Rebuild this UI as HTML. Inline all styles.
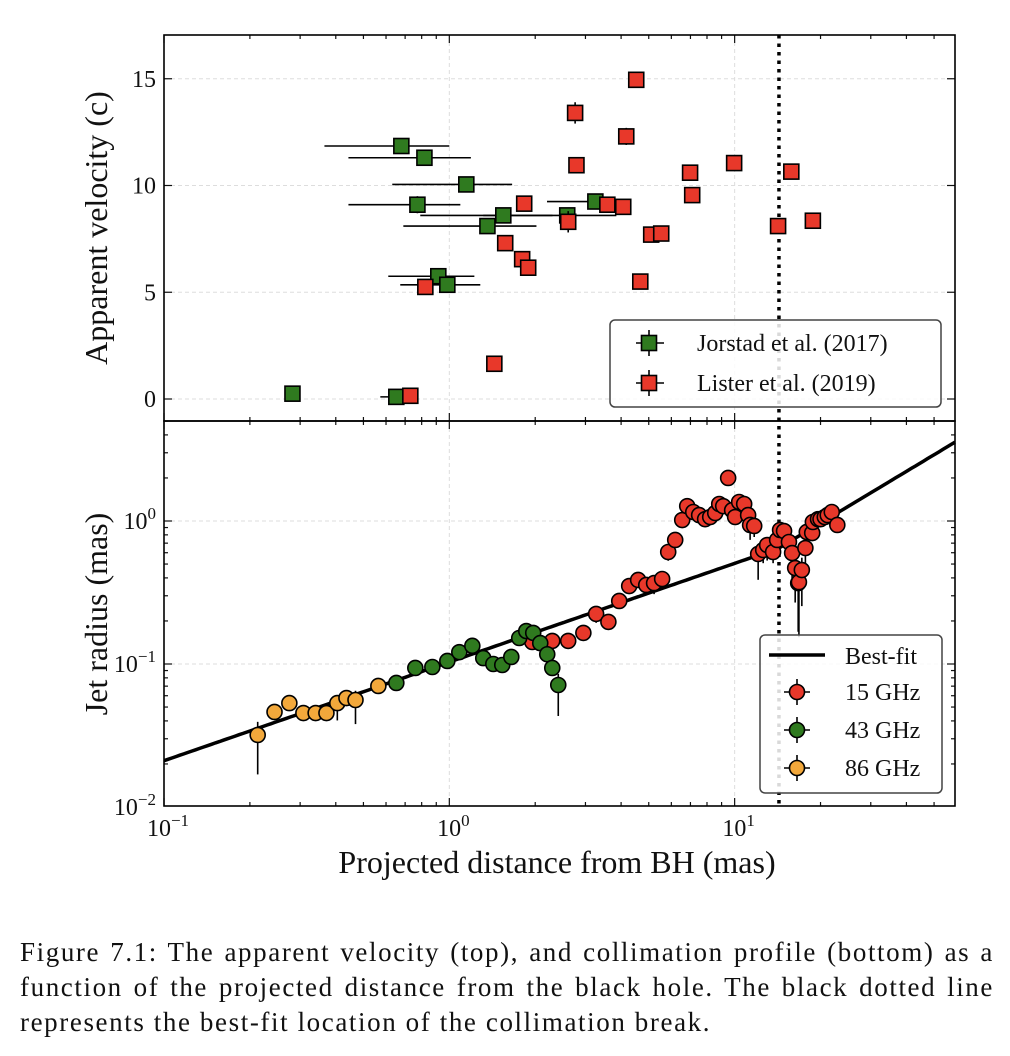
<!DOCTYPE html>
<html><head><meta charset="utf-8">
<style>
body{margin:0;background:#fff;width:1010px;height:1056px;overflow:hidden;font-family:"Liberation Serif",serif;}
svg{position:absolute;left:0;top:0;}
svg text{font-family:"Liberation Serif",serif;fill:#111;}
#caption{position:absolute;left:20px;top:935px;width:974px;font-size:27px;letter-spacing:1.6px;line-height:35px;color:#111;}
#caption div{text-align:justify;text-align-last:justify;}
#caption div.last{text-align-last:left;white-space:nowrap;}
</style></head>
<body>
<svg id="chart" width="1010" height="920"></svg>
<div id="caption"><div>Figure 7.1: The apparent velocity (top), and collimation profile (bottom) as a</div><div>function of the projected distance from the black hole. The black dotted line</div><div class="last">represents the best-fit location of the collimation break.</div></div>
<script>
// ---- Top panel data: apparent velocity ----
const jorX   = [0.679,0.818,1.147,0.773,1.546,1.36,0.915,0.984,0.282,0.652,2.59,3.25];
const jorV   = [11.85,11.3,10.05,9.1,8.6,8.1,5.75,5.35,0.25,0.1,8.6,9.25];
const jorXlo = [0.365,0.443,0.631,0.443,0.791,0.690,0.611,0.673,0.275,0.573,1.315,2.20];
const jorXhi = [1.0,1.19,1.66,1.093,2.30,2.02,1.224,1.284,0.29,0.73,3.85,4.24];
const jorVerr= [0.25,0,0,0.4,0,0,0,0,0,0,0,0];
const lisX   = [0.73,0.824,1.438,1.83,1.57,1.80,1.89,2.61,2.76,2.79,3.58,4.07,4.17,4.52,4.67,5.10,5.53,6.98,7.10,9.96,14.2,15.8,18.8];
const lisV   = [0.15,5.25,1.65,9.15,7.3,6.55,6.15,8.3,13.4,10.95,9.1,9.0,12.3,14.95,5.5,7.7,7.75,10.6,9.55,11.05,8.1,10.65,8.35];
const lisVerr= [0,0,0,0,0,0,0,0.5,0.5,0,0,0,0.4,0,0,0.2,0,0,0,0,0,0,0];
// ---- Bottom panel data: jet radius ----
const d86 = [0.213,0.244,0.275,0.308,0.340,0.371,0.405,0.436,0.469,0.564];
const r86 = [0.0319,0.0462,0.0533,0.0454,0.0454,0.0454,0.0533,0.0578,0.056,0.0702];
const e86 = [0.015,0,0,0,0,0,0.013,0,0.018,0];
const d43 = [0.652,0.760,0.872,0.984,1.084,1.204,1.315,1.426,1.533,1.649,1.758,1.861,1.968,2.083,2.204,2.295,2.409];
const r43 = [0.0737,0.0938,0.0953,0.105,0.121,0.134,0.110,0.100,0.0984,0.112,0.152,0.170,0.165,0.140,0.117,0.0938,0.0713];
const e43 = [0,0,0,0,0,0,0,0,0,0,0,0,0,0,0,0,0.028];
const d15 = [1.953,2.295,2.61,2.95,3.27,3.61,3.94,4.27,4.59,4.90,5.22,5.57,5.85,6.19,6.55,6.82,7.16,7.51,7.88,8.21,8.55,8.83,9.12,9.49,9.80,10.04,10.37,10.8,11.15,11.33,11.71,12.09,12.59,13.0,13.64,14.09,14.43,14.9,15.5,15.9,16.3,16.7,16.8,17.2,17.7,17.9,18.7,18.8,19.6,20.0,20.7,21.2,21.9,22.9];
const r15 = [0.1425,0.145,0.145,0.165,0.224,0.197,0.276,0.351,0.387,0.357,0.368,0.393,0.607,0.737,1.016,1.27,1.156,1.10,1.03,1.066,1.137,1.315,1.27,2.0,1.19,1.066,1.358,1.315,1.10,0.938,0.923,0.588,0.627,0.679,0.607,0.737,0.865,0.851,0.713,0.597,0.469,0.368,0.374,0.454,0.647,0.838,0.824,0.984,1.03,1.03,1.066,1.10,1.156,0.938];
const e15 = [0,0,0,0,0.03,0,0,0,0,0,0.06,0,0.08,0,0,0,0,0,0,0,0,0,0,0,0.15,0,0,0,0,0.2,0.15,0.2,0.12,0.15,0.1,0.12,0.1,0.1,0.12,0.2,0.2,0.2,0.22,0.2,0.15,0.08,0,0,0,0,0,0,0,0.1];
// ---- best-fit broken power law parameters ----
const breakX = 14.3, breakR = 0.647, slopeIn = 0.69, slopeOut = 1.2;

const NS="http://www.w3.org/2000/svg";
const svg=document.getElementById('chart');
function el(tag,attrs,parent){const e=document.createElementNS(NS,tag);for(const k in attrs)e.setAttribute(k,attrs[k]);(parent||svg).appendChild(e);return e;}
const L=164,R=955,T1=35,B1=421,T2=421,B2=806;
const lxMin=-1, lxMax=Math.log10(59.2);
function X(v){return L+(Math.log10(v)-lxMin)/(lxMax-lxMin)*(R-L);}
function Y1(v){return 399-v*21.35;}
function Y2(v){return 521-Math.log10(v)*143;}
const GREEN="#2f7a1f",RED="#e8382a",ORANGE="#f2a83b";

// grids
const gridG=el('g',{});


[0,5,10,15].forEach(v=>el('line',{x1:L,x2:R,y1:Y1(v),y2:Y1(v),stroke:'#ddd','stroke-dasharray':'4,3','stroke-width':1},gridG));
[1,10].forEach(v=>{el('line',{x1:X(v),x2:X(v),y1:T1,y2:B1,stroke:'#ddd','stroke-dasharray':'4,3'},gridG);el('line',{x1:X(v),x2:X(v),y1:T2,y2:B2,stroke:'#ddd','stroke-dasharray':'4,3'},gridG);});
[1,0.1].forEach(v=>el('line',{x1:L,x2:R,y1:Y2(v),y2:Y2(v),stroke:'#ddd','stroke-dasharray':'4,3'},gridG));

// ticks
const tickG=el('g',{stroke:'#111','stroke-width':1.2});


for(let dec=-1;dec<=1;dec++){for(let m=1;m<=9;m++){const v=m*Math.pow(10,dec);const x=X(v);if(x<L-0.5||x>R)continue;const len=m===1?8:4;
 el('line',{x1:x,x2:x,y1:B1,y2:B1-len},tickG);el('line',{x1:x,x2:x,y1:T1,y2:T1+len},tickG);
 el('line',{x1:x,x2:x,y1:B2,y2:B2-len},tickG);el('line',{x1:x,x2:x,y1:T2,y2:T2+len},tickG);}}
[0,5,10,15].forEach(v=>{el('line',{x1:L,x2:L+8,y1:Y1(v),y2:Y1(v)},tickG);el('line',{x1:R,x2:R-8,y1:Y1(v),y2:Y1(v)},tickG);});
for(let dec=-2;dec<=0;dec++){for(let m=1;m<=9;m++){const v=m*Math.pow(10,dec);const y=Y2(v);if(y<T2||y>B2+0.5)continue;const len=m===1?8:4;
 el('line',{x1:L,x2:L+len,y1:y,y2:y},tickG);el('line',{x1:R,x2:R-len,y1:y,y2:y},tickG);}}

// dotted break line
const br=el('line',{x1:X(breakX),x2:X(breakX),y1:T1,y2:B2,stroke:'#000','stroke-width':3.5,'stroke-dasharray':'3.5,5'});



// top panel series
function sq(x,y,c,g){el('rect',{x:x-7.5,y:y-7.5,width:15,height:15,fill:c,stroke:'#000','stroke-width':1.6},g);}
const jg=el('g',{});


jorX.forEach((v,i)=>{const x=X(v),y=Y1(jorV[i]);
 el('line',{x1:X(jorXlo[i]),x2:X(jorXhi[i]),y1:y,y2:y,stroke:'#000','stroke-width':1.6},jg);
 if(jorVerr[i])el('line',{x1:x,x2:x,y1:Y1(jorV[i]-jorVerr[i]),y2:Y1(jorV[i]+jorVerr[i]),stroke:'#000','stroke-width':1.6},jg);});
const lg=el('g',{});


lisX.forEach((v,i)=>{const x=X(v),y=Y1(lisV[i]);
 if(lisVerr[i])el('line',{x1:x,x2:x,y1:Y1(lisV[i]-lisVerr[i]),y2:Y1(lisV[i]+lisVerr[i]),stroke:'#000','stroke-width':1.6},lg);
 sq(x,y,RED,lg);});
jorX.forEach((v,i)=>sq(X(v),Y1(jorV[i]),GREEN,jg));

// best-fit line
let pts=[];for(let k=0;k<=200;k++){const lx=lxMin+(lxMax-lxMin)*k/200;const v=Math.pow(10,lx);
 const r=breakR*Math.pow(v/breakX,v<breakX?slopeIn:slopeOut);pts.push(X(v).toFixed(1)+','+Y2(r).toFixed(1));}
const bf=el('polyline',{points:pts.join(' '),fill:'none',stroke:'#000','stroke-width':3.5});



function circ(ds,rs,es,c,name){const g=el('g',{});
 
 
 ds.forEach((v,i)=>{if(es[i]){const lo=Math.max(rs[i]-es[i],rs[i]*0.25);el('line',{x1:X(v),x2:X(v),y1:Y2(lo),y2:Y2(rs[i]+es[i]*0.5),stroke:'#000','stroke-width':1.6},g);}});
 ds.forEach((v,i)=>el('circle',{cx:X(v),cy:Y2(rs[i]),r:7.5,fill:c,stroke:'#000','stroke-width':1.6},g));}
circ(d15,r15,e15,RED,'series-15ghz');
circ(d43,r43,e43,GREEN,'series-43ghz');
circ(d86,r86,e86,ORANGE,'series-86ghz');

// frames
el('rect',{x:L,y:T1,width:R-L,height:B1-T1,fill:'none',stroke:'#000','stroke-width':1.6});
el('rect',{x:L,y:T2,width:R-L,height:B2-T2,fill:'none',stroke:'#000','stroke-width':1.6});

// tick labels
function txt(s,x,y,size,anchor,name){const t=el('text',{x:x,y:y,'font-size':size,'text-anchor':anchor||'middle'});t.textContent=s;
 
 return t;}
[0,5,10,15].forEach(v=>txt(String(v),156,Y1(v)+8,24,'end','y-tick-label'));
function pow(base,exp,x,y,anchor,name){const t=el('text',{x:x,y:y,'font-size':24,'text-anchor':anchor});
 
 
 const a=el('tspan',{},t);a.textContent=base;const b=el('tspan',{dy:-10,'font-size':17},t);b.textContent=exp;}
pow('10','0',156,Y2(1)+8,'end','y-tick-label');
pow('10','−1',156,Y2(0.1)+8,'end','y-tick-label');
pow('10','−2',156,Y2(0.01)+8,'end','y-tick-label');
pow('10','−1',X(0.1)+4,836,'middle','x-tick-label');
pow('10','0',X(1)+4,836,'middle','x-tick-label');
pow('10','1',X(10)+4,836,'middle','x-tick-label');

// axis titles
const yt1=txt('Apparent velocity (c)',0,0,32,'middle','y-axis-title-top');yt1.setAttribute('transform','translate(107,228) rotate(-90)');
const yt2=txt('Jet radius (mas)',0,0,32,'middle','y-axis-title-bottom');yt2.setAttribute('transform','translate(107,614) rotate(-90)');
txt('Projected distance from BH (mas)',557,873,32,'middle','x-axis-title');

// top legend
const leg1=el('g',{});


el('rect',{x:610,y:320,width:331,height:87,rx:5,fill:'rgba(255,255,255,0.85)',stroke:'#444','stroke-width':1.5},leg1);
[[GREEN,'Jorstad et al. (2017)',343],[RED,'Lister et al. (2019)',383]].forEach(([c,s,y])=>{
 el('line',{x1:636,x2:664,y1:y,y2:y,stroke:'#000','stroke-width':1.6},leg1);
 el('line',{x1:649,x2:649,y1:y-13,y2:y+13,stroke:'#000','stroke-width':1.6},leg1);
 sq(649,y,c,leg1);
 const t=el('text',{x:697,y:y+8,'font-size':24},leg1);t.textContent=s;});
// bottom legend
const leg2=el('g',{});


el('rect',{x:760,y:635,width:182,height:158,rx:5,fill:'rgba(255,255,255,0.85)',stroke:'#444','stroke-width':1.5},leg2);
el('line',{x1:769,x2:825,y1:655,y2:655,stroke:'#000','stroke-width':3.5},leg2);
let t0=el('text',{x:845,y:664,'font-size':24},leg2);t0.textContent='Best-fit';
[[RED,'15 GHz',692],[GREEN,'43 GHz',730],[ORANGE,'86 GHz',768]].forEach(([c,s,y])=>{
 el('line',{x1:784,x2:810,y1:y,y2:y,stroke:'#000','stroke-width':1.6},leg2);
 el('line',{x1:797,x2:797,y1:y-13,y2:y+13,stroke:'#000','stroke-width':1.6},leg2);
 el('circle',{cx:797,cy:y,r:7.5,fill:c,stroke:'#000','stroke-width':1.6},leg2);
 const t=el('text',{x:845,y:y+8,'font-size':24},leg2);t.textContent=s;});
</script>
</body></html>
